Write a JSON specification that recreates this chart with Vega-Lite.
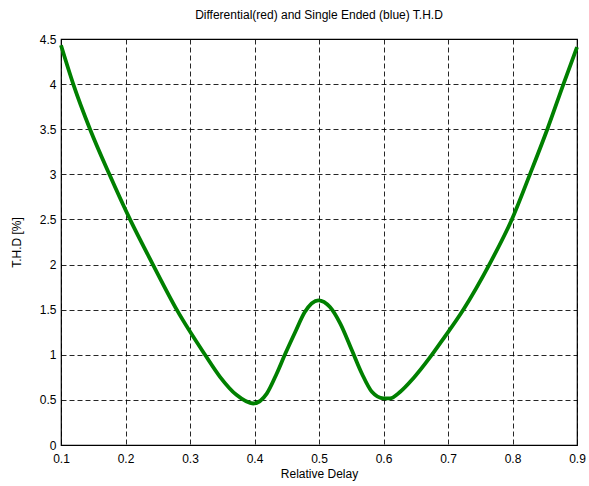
{
  "$schema": "https://vega.github.io/schema/vega-lite/v6.json",
  "autosize": "none",
  "width": 516,
  "height": 406,
  "padding": {"left": 61, "top": 39, "right": 12, "bottom": 41},
  "background": "white",
  "config": {
    "view": {"stroke": "black", "strokeWidth": 1.2},
    "font": "Liberation Sans",
    "axis": {
      "labelFont": "Liberation Sans",
      "titleFont": "Liberation Sans",
      "labelFontSize": 12,
      "titleFontSize": 12,
      "titleFontWeight": "normal",
      "labelColor": "black",
      "titleColor": "black",
      "domain": false,
      "ticks": false,
      "grid": true,
      "gridColor": "black",
      "gridDash": [5, 3],
      "gridOpacity": 0.85,
      "gridWidth": 1,
      "labelFlush": false,
      "labelOverlap": false
    }
  },
  "title": {
    "text": "Differential(red) and Single Ended (blue) T.H.D",
    "font": "Liberation Sans",
    "fontSize": 12,
    "fontWeight": "normal",
    "color": "black",
    "offset": 11
  },
  "data": {
    "values": [
      {"x": 0.1, "y": 4.43},
      {"x": 0.119, "y": 4.0},
      {"x": 0.145, "y": 3.5},
      {"x": 0.175, "y": 3.0},
      {"x": 0.207, "y": 2.5},
      {"x": 0.2425, "y": 2.0},
      {"x": 0.2794, "y": 1.5},
      {"x": 0.3233, "y": 1.0},
      {"x": 0.3465, "y": 0.756},
      {"x": 0.3724, "y": 0.553},
      {"x": 0.398, "y": 0.46},
      {"x": 0.419, "y": 0.57},
      {"x": 0.4345, "y": 0.793},
      {"x": 0.447, "y": 1.0},
      {"x": 0.463, "y": 1.25},
      {"x": 0.478, "y": 1.475},
      {"x": 0.499, "y": 1.604},
      {"x": 0.517, "y": 1.53},
      {"x": 0.533, "y": 1.346},
      {"x": 0.551, "y": 1.05},
      {"x": 0.5666, "y": 0.79},
      {"x": 0.582, "y": 0.59},
      {"x": 0.6, "y": 0.517},
      {"x": 0.61, "y": 0.517},
      {"x": 0.626, "y": 0.59},
      {"x": 0.646, "y": 0.737},
      {"x": 0.672, "y": 0.97},
      {"x": 0.693, "y": 1.18},
      {"x": 0.7237, "y": 1.5},
      {"x": 0.764, "y": 2.0},
      {"x": 0.799, "y": 2.5},
      {"x": 0.827, "y": 3.0},
      {"x": 0.854, "y": 3.5},
      {"x": 0.879, "y": 4.0},
      {"x": 0.9, "y": 4.41}
    ]
  },
  "mark": {"type": "line", "color": "#008000", "strokeWidth": 3.8, "interpolate": "monotone"},
  "encoding": {
    "x": {
      "field": "x",
      "type": "quantitative",
      "scale": {"domain": [0.1, 0.9], "nice": false, "zero": false},
      "axis": {"title": "Relative Delay", "values": [0.1, 0.2, 0.3, 0.4, 0.5, 0.6, 0.7, 0.8, 0.9], "format": "~g", "labelPadding": 8, "titlePadding": 4}
    },
    "y": {
      "field": "y",
      "type": "quantitative",
      "scale": {"domain": [0, 4.5], "nice": false},
      "axis": {"title": "T.H.D [%]", "values": [0, 0.5, 1, 1.5, 2, 2.5, 3, 3.5, 4, 4.5], "format": "~g", "labelPadding": 5, "titlePadding": 16}
    }
  }
}
